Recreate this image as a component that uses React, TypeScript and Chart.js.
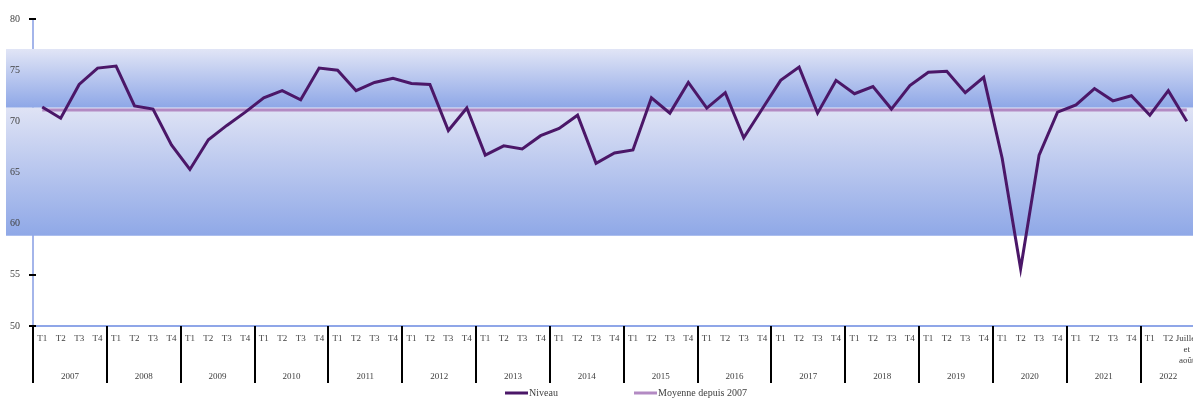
import React, { useEffect, useRef } from 'react';
import { Chart, registerables } from 'chart.js';

Chart.register(...registerables);

const years = ['2007', '2008', '2009', '2010', '2011', '2012', '2013', '2014', '2015', '2016', '2017', '2018', '2019', '2020', '2021', '2022'];
const quarters = ['T1', 'T2', 'T3', 'T4'];
const lastPeriodLabel = ['Juillet', 'et', 'août'];

const niveau = [
  71.4, 70.3, 73.6, 75.2,
  75.4, 71.5, 71.2, 67.7,
  65.3, 68.2, 69.6, 70.9,
  72.3, 73.0, 72.1, 75.2,
  75.0, 73.0, 73.8, 74.2,
  73.7, 73.6, 69.1, 71.3,
  66.7, 67.6, 67.3, 68.6,
  69.3, 70.6, 65.9, 66.9,
  67.2, 72.3, 70.8, 73.8,
  71.3, 72.8, 68.4, 71.2,
  74.0, 75.3, 70.8, 74.0,
  72.7, 73.4, 71.2, 73.5,
  74.8, 74.9, 72.8, 74.3,
  66.4, 55.6, 66.7, 70.9,
  71.6, 73.2, 72.0, 72.5,
  70.6, 73.0, 70.0,
];

const moyenne = 71.1;

const bandTop = 77.07;
const bandMid = 71.33;
const bandBottom = 58.82;

const yMin = 50;
const yMax = 80;
const yStep = 5;

const seriesNames = ['Niveau', 'Moyenne depuis 2007'];

const labels: (string | string[])[] = [];
years.forEach((yr, yi) => {
  quarters.forEach((q, qi) => {
    if (yi === years.length - 1 && qi === 2) labels.push(lastPeriodLabel);
    else if (yi === years.length - 1 && qi === 3) return;
    else labels.push(q);
  });
});

const FONT = "'Liberation Serif', 'DejaVu Serif', serif";
const TEXT = '#404040';
const NIVEAU_COLOR = '#4b1768';
const MOY_COLOR = '#b38ac3';

const decorPlugin = {
  id: 'decor',
  beforeDatasetsDraw(chart: any) {
    const { ctx, scales } = chart;
    const y = scales.y;
    const left = chart.chartArea.left;
    ctx.save();
    ctx.strokeStyle = '#000';
    ctx.lineWidth = 2;
    for (let v = yMin; v <= yMax; v += yStep) {
      const py = Math.round(y.getPixelForValue(v));
      ctx.beginPath();
      ctx.moveTo(left - 4, py);
      ctx.lineTo(left + 3, py);
      ctx.stroke();
    }
    const yT = y.getPixelForValue(bandTop);
    const yM = y.getPixelForValue(bandMid);
    const yB = y.getPixelForValue(bandBottom);
    const x0 = 6;
    const x1 = chart.width;
    const g1 = ctx.createLinearGradient(0, yT, 0, yM);
    g1.addColorStop(0, '#e1e5f6');
    g1.addColorStop(1, '#8ea7e7');
    ctx.fillStyle = g1;
    ctx.fillRect(x0, yT, x1 - x0, yM - yT);
    const g2 = ctx.createLinearGradient(0, yM, 0, yB);
    g2.addColorStop(0, '#dfe3f5');
    g2.addColorStop(1, '#8fa8e7');
    ctx.fillStyle = g2;
    ctx.fillRect(x0, yM, x1 - x0, yB - yM);
    ctx.restore();
  },
  afterDraw(chart: any) {
    const { ctx, scales } = chart;
    const x = scales.x;
    const bottom = chart.chartArea.bottom;
    const n = labels.length;
    const x0 = x.getPixelForValue(0);
    const xN = x.getPixelForValue(n - 1);
    const w = (xN - x0) / (n - 1);
    ctx.save();
    ctx.strokeStyle = '#000';
    ctx.lineWidth = 2;
    for (let k = 0; k <= years.length; k++) {
      const px = Math.round(x0 - w / 2 + 4 * k * w);
      ctx.beginPath();
      ctx.moveTo(px, bottom);
      ctx.lineTo(px, bottom + 57);
      ctx.stroke();
    }
    ctx.fillStyle = TEXT;
    ctx.font = `9px ${FONT}`;
    ctx.textAlign = 'center';
    ctx.textBaseline = 'middle';
    years.forEach((yr, k) => {
      const first = 4 * k;
      const last = Math.min(4 * k + 3, n - 1);
      const cx = (x.getPixelForValue(first) + x.getPixelForValue(last)) / 2;
      ctx.fillText(yr, cx, bottom + 51);
    });
    const ly = 393;
    ctx.font = `10px ${FONT}`;
    ctx.textAlign = 'left';
    ctx.lineWidth = 3;
    const items = [
      { name: seriesNames[0], color: NIVEAU_COLOR, x: 505 },
      { name: seriesNames[1], color: MOY_COLOR, x: 634 },
    ];
    items.forEach((it) => {
      ctx.strokeStyle = it.color;
      ctx.beginPath();
      ctx.moveTo(it.x, ly);
      ctx.lineTo(it.x + 23, ly);
      ctx.stroke();
      ctx.fillStyle = TEXT;
      ctx.fillText(it.name, it.x + 24, ly + 0.5);
    });
    ctx.restore();
  },
};

export default function App() {
  const ref = useRef<HTMLCanvasElement | null>(null);
  useEffect(() => {
    if (!ref.current) return;
    const chart = new Chart(ref.current, {
      type: 'line',
      data: {
        labels,
        datasets: [
          {
            label: seriesNames[0],
            data: niveau,
            borderColor: NIVEAU_COLOR,
            backgroundColor: NIVEAU_COLOR,
            borderWidth: 3,
            pointRadius: 0,
            tension: 0,
            order: 0,
          },
          {
            label: seriesNames[1],
            data: labels.map(() => moyenne),
            borderColor: MOY_COLOR,
            backgroundColor: MOY_COLOR,
            borderWidth: 3,
            pointRadius: 0,
            tension: 0,
            order: 1,
          },
        ],
      },
      options: {
        animation: false,
        responsive: false,
        devicePixelRatio: 1,
        layout: { padding: { top: 19, left: 0, right: 0, bottom: 0 } },
        plugins: { legend: { display: false }, tooltip: { enabled: false } },
        scales: {
          x: {
            offset: true,
            grid: { display: false, offset: true },
            border: { color: '#8fa6e8', width: 2 },
            ticks: {
              font: { family: FONT, size: 9, lineHeight: 1.25 },
              color: TEXT,
              padding: -1,
              autoSkip: false,
              maxRotation: 0,
              minRotation: 0,
              z: 1,
            },
            afterFit: (s: any) => {
              s.height = 73;
              s.paddingLeft = 0;
              s.paddingRight = 0;
            },
          },
          y: {
            min: yMin,
            max: yMax,
            grid: { display: false },
            border: { color: '#a4b5ea', width: 2 },
            ticks: {
              stepSize: yStep,
              font: { family: FONT, size: 10 },
              color: TEXT,
              padding: 5,
              z: 1,
            },
            afterFit: (s: any) => {
              s.width = 33;
            },
          },
        },
      },
      plugins: [decorPlugin],
    });
    return () => chart.destroy();
  }, []);
  return (
    <div style={{ position: 'fixed', left: 0, top: 0, width: 1193, height: 399, overflow: 'hidden', background: '#fff' }}>
      <canvas ref={ref} width={1196} height={399} style={{ display: 'block', width: 1196, height: 399 }} />
    </div>
  );
}
